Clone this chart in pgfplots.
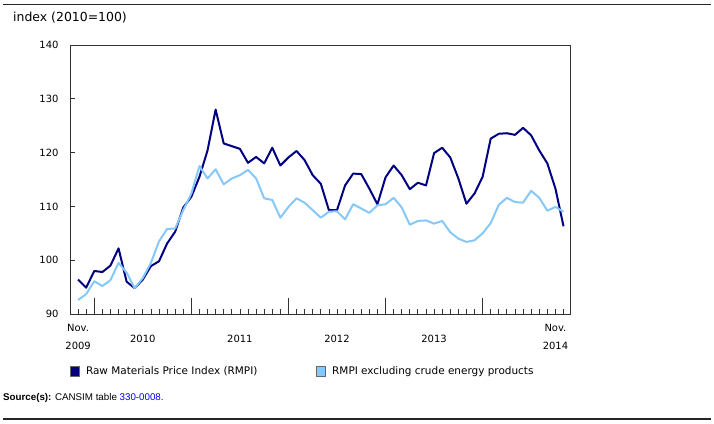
\documentclass[border=0pt]{standalone}
\usepackage{pgfplots}
\pgfplotsset{compat=1.18}
\usepackage{fontspec}
\setmainfont{DejaVu Sans}
\newfontfamily\arialfont{Liberation Sans}
\definecolor{rmpi}{RGB}{0,0,128}
\definecolor{rmpil}{RGB}{135,200,250}
\begin{document}
\begin{tikzpicture}
\path[use as bounding box] (0,0) rectangle (714bp,424bp);
\draw[line width=1.6bp, black!85] (3bp,419.5bp) -- (711bp,419.5bp);
\draw[line width=1.6bp, black!85] (3bp,5bp) -- (711bp,5bp);
\node[anchor=west, inner sep=0pt, font=\fontsize{12.5}{14}\selectfont] at (13bp,406bp) {index (2010=100)};
\node[anchor=west, inner sep=0pt, font=\arialfont\fontsize{9.8}{11}\selectfont] at (3bp,26.3bp) {\textbf{Source(s):} CANSIM table \textcolor{blue}{330-0008}.};
\begin{axis}[
  at={(70bp,110bp)}, anchor=south west, scale only axis,
  width=500bp, height=269bp,
  xmin=-1, xmax=60.8, ymin=90, ymax=140,
  axis line style={black!80, line width=0.8bp},
  every tick/.style={black!80, line width=0.8bp},
  tick align=inside,
  major tick length=4.5bp,
  ytick={90,100,...,140}, ytick pos=left,
  yticklabel style={font=\fontsize{10}{12}\selectfont, xshift=-8bp},
  /pgf/number format/assume math mode=true,
  xtick={0,...,60}, xtick pos=bottom,
  xticklabels={{Nov.\\2009},{},{},{},{},{},{},{},{\mbox{}\\2010},{},{},{},{},{},{},{},{},{},{},{},{\mbox{}\\2011},{},{},{},{},{},{},{},{},{},{},{},{\mbox{}\\2012},{},{},{},{},{},{},{},{},{},{},{},{\mbox{}\\2013},{},{},{},{},{},{},{},{},{},{},{},{},{},{},{Nov.\\2014}},
  xticklabel style={font=\fontsize{10}{18}\selectfont, align=center, yshift=-7bp},
  extra x ticks={2,14,26,38,50}, extra x tick labels={},
  extra x tick style={major tick length=16bp},
  legend style={at={(0,-0.212)}, anchor=west, draw=none, fill=none, inner sep=0pt,
    legend columns=2, font=\fontsize{10.5}{12}\selectfont, nodes={inner sep=1bp},
    /tikz/every odd column/.append style={column sep=5bp},
    /tikz/every even column/.append style={column sep=58bp}},
  legend cell align=left,
]
\addplot[rmpi, line width=2bp, line join=round,
  legend image code/.code={\draw[black!60, fill=rmpi, line width=0.8bp] (0bp,-5bp) rectangle (9bp,5bp);}]
table {
0 96.4
1 94.9
2 98.0
3 97.8
4 99.0
5 102.2
6 96.0
7 94.8
8 96.4
9 98.9
10 99.8
11 103.1
12 105.3
13 109.8
14 111.8
15 115.5
16 120.4
17 128.0
18 121.7
19 121.2
20 120.7
21 118.1
22 119.2
23 118.0
24 120.9
25 117.6
26 119.1
27 120.3
28 118.6
29 115.8
30 114.2
31 109.3
32 109.3
33 113.9
34 116.1
35 116.0
36 113.3
37 110.4
38 115.4
39 117.6
40 115.8
41 113.2
42 114.4
43 113.9
44 119.9
45 120.9
46 119.1
47 115.2
48 110.5
49 112.4
50 115.5
51 122.6
52 123.5
53 123.6
54 123.3
55 124.6
56 123.2
57 120.4
58 118.0
59 113.3
60 106.3
};
\addlegendentry{Raw Materials Price Index (RMPI)}
\addplot[rmpil, line width=2bp, line join=round,
  legend image code/.code={\draw[black!60, fill=rmpil, line width=0.8bp] (0bp,-5bp) rectangle (9bp,5bp);}]
table {
0 92.6
1 93.7
2 96.1
3 95.2
4 96.3
5 99.5
6 97.7
7 94.8
8 96.7
9 99.5
10 103.5
11 105.8
12 105.9
13 109.3
14 112.4
15 117.5
16 115.2
17 116.9
18 114.1
19 115.2
20 115.8
21 116.8
22 115.2
23 111.5
24 111.2
25 107.9
26 109.9
27 111.5
28 110.7
29 109.3
30 107.9
31 109.0
32 109.1
33 107.6
34 110.4
35 109.6
36 108.8
37 110.2
38 110.4
39 111.6
40 109.8
41 106.6
42 107.3
43 107.4
44 106.8
45 107.3
46 105.2
47 104.0
48 103.4
49 103.7
50 105.0
51 106.9
52 110.3
53 111.6
54 110.8
55 110.7
56 112.9
57 111.6
58 109.2
59 109.9
60 109.0
};
\addlegendentry{RMPI excluding crude energy products}
\end{axis}
\end{tikzpicture}
\end{document}
